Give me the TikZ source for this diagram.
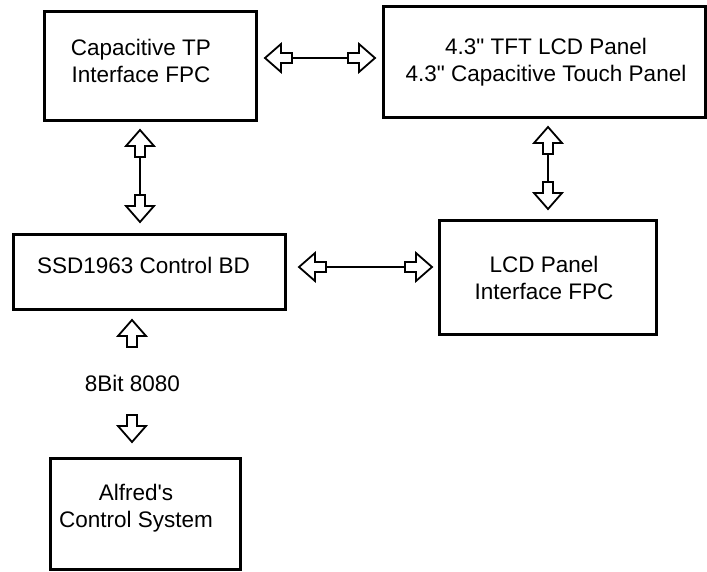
\documentclass[tikz,border=0pt]{standalone}
\usepackage{fontspec}
\setmainfont{Liberation Sans}[Ligatures=TeXOff]
\begin{document}
\begin{tikzpicture}[x=1pt,y=1pt,
  box/.style={draw=black, line width=3pt, inner sep=0pt, fill=white},
  txt/.style={align=center, inner sep=0pt, font=\fontsize{22.5}{27}\selectfont},
  conn/.style={line width=2pt},
  barrow/.pic={\draw[line width=1.8pt, fill=white, miter limit=4] (0,0) -- (-16,14) -- (-16,5) -- (-27,5) -- (-27,-5) -- (-16,-5) -- (-16,-14) -- cycle;}
]
\useasboundingbox (0,0) rectangle (707,-571);

% boxes
\node[box, minimum width=212, minimum height=109] (b1) at (150,-65.5) {};
\node[box, minimum width=322, minimum height=111] (b2) at (544,-61.5) {};
\node[box, minimum width=272, minimum height=75]  (b3) at (149,-271.5) {};
\node[box, minimum width=217, minimum height=114] (b4) at (547.5,-277) {};
\node[box, minimum width=190, minimum height=111] (b5) at (145,-513.5) {};

% texts
\node[txt] (t1) at (141,-61) {Capacitive TP\\Interface FPC};
\node[txt] (t2) at (546,-62) {4.3" TFT LCD Panel\\4.3" Capacitive Touch Panel};
\node[txt] (t3) at (143.5,-265.5) {SSD1963 Control BD};
\node[txt] (t4) at (544,-277.5) {LCD Panel\\Interface FPC};
\node[txt] (t5) at (136,-508.5) {Alfred's\\Control System};
\node[txt] (lbl) at (132.5,-383) {8Bit 8080};

% arrow tip coordinates
\coordinate (a1l) at (265,-58);   \coordinate (a1r) at (375,-58);
\coordinate (a2u) at (140,-130);  \coordinate (a2d) at (140,-222);
\coordinate (a3u) at (548,-127);  \coordinate (a3d) at (548,-209);
\coordinate (a4l) at (299,-267);  \coordinate (a4r) at (432,-267);
\coordinate (a5u) at (132,-320);  \coordinate (a5d) at (132,-442);

% connecting shafts
\draw[conn] ([xshift=27pt]a1l) -- ([xshift=-27pt]a1r);
\draw[conn] ([yshift=-27pt]a2u) -- ([yshift=27pt]a2d);
\draw[conn] ([yshift=-27pt]a3u) -- ([yshift=27pt]a3d);
\draw[conn] ([xshift=27pt]a4l) -- ([xshift=-27pt]a4r);

% block arrow heads
\path (a1l) pic[rotate=180] {barrow};
\path (a1r) pic {barrow};
\path (a2u) pic[rotate=90] {barrow};
\path (a2d) pic[rotate=-90] {barrow};
\path (a3u) pic[rotate=90] {barrow};
\path (a3d) pic[rotate=-90] {barrow};
\path (a4l) pic[rotate=180] {barrow};
\path (a4r) pic {barrow};
\path (a5u) pic[rotate=90] {barrow};
\path (a5d) pic[rotate=-90] {barrow};
\end{tikzpicture}
\end{document}
